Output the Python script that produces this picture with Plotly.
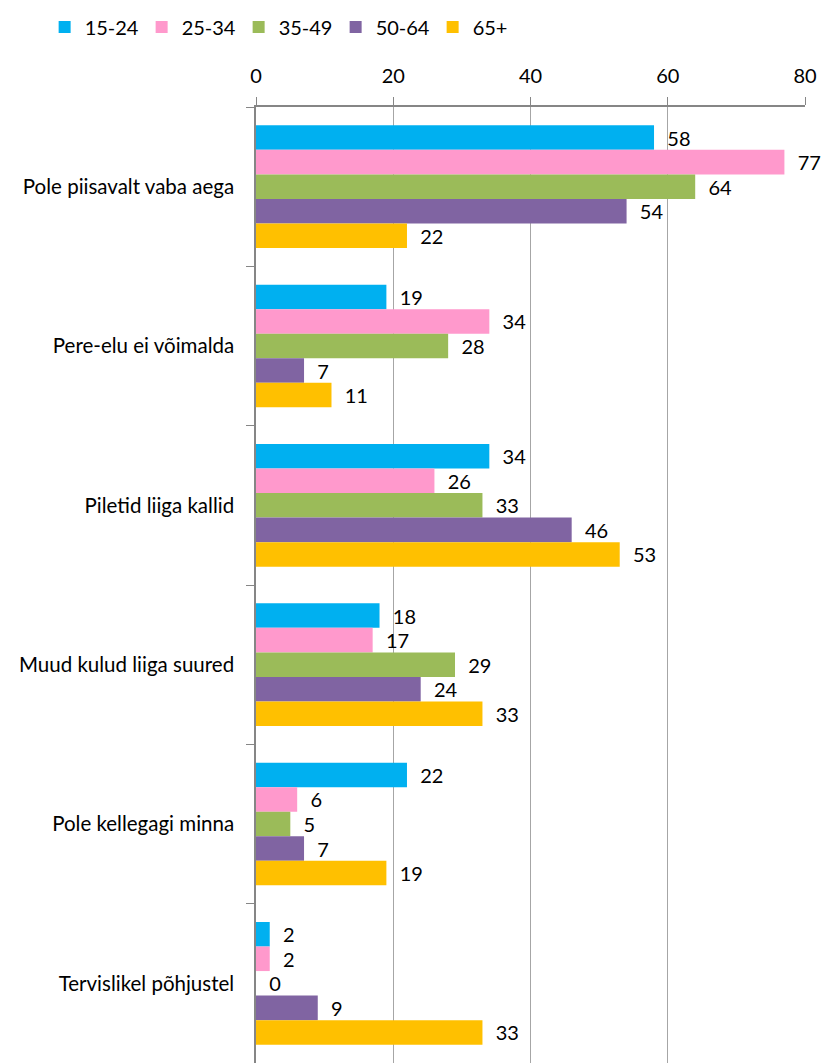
import plotly.graph_objects as go

categories = ["Pole piisavalt vaba aega", "Pere-elu ei võimalda", "Piletid liiga kallid",
              "Muud kulud liiga suured", "Pole kellegagi minna", "Tervislikel põhjustel"]
series_names = ["15-24", "25-34", "35-49", "50-64", "65+"]
v_15_24 = [58, 19, 34, 18, 22, 2]
v_25_34 = [77, 34, 26, 17, 6, 2]
v_35_49 = [64, 28, 33, 29, 5, 0]
v_50_64 = [54, 7, 46, 24, 7, 9]
v_65 = [22, 11, 53, 33, 19, 33]
x_ticks = [0, 20, 40, 60, 80]

colors = ["#00B0F0", "#FF99CC", "#9BBB59", "#8064A2", "#FFC000"]
all_values = [v_15_24, v_25_34, v_35_49, v_50_64, v_65]

FONT = "Lato, Carlito, Calibri, sans-serif"

fig = go.Figure()
for name, vals, col in zip(series_names, all_values, colors):
    fig.add_trace(go.Bar(
        y=categories, x=vals, name=name, orientation="h",
        marker=dict(color=col, line=dict(width=0)),
        text=["\u00a0\u00a0" + str(v) for v in vals], textposition="outside",
        textfont=dict(size=20, color="black", family=FONT),
        cliponaxis=False,
    ))

fig.update_layout(
    width=821, height=1063,
    barmode="group", bargap=0.23, bargroupgap=0,
    plot_bgcolor="white", paper_bgcolor="white",
    margin=dict(l=256, r=16, t=107, b=0),
    font=dict(family=FONT, size=20, color="black"),
    legend=dict(orientation="h", x=-0.385, xanchor="left", y=1.0837, yanchor="middle",
                font=dict(size=20), itemwidth=30, entrywidth=52, entrywidthmode="pixels",
                traceorder="normal"),
    xaxis=dict(side="top", range=[0, 80], tickvals=x_ticks, showgrid=True,
               gridcolor="#A6A6A6", gridwidth=1.2, showline=True, linecolor="#868686",
               linewidth=1.5, ticks="outside", ticklen=8, tickcolor="#868686",
               tickfont=dict(size=20), ticklabelstandoff=6, zeroline=False),
    yaxis=dict(autorange="reversed", showline=True, linecolor="#868686", linewidth=1.5,
               ticks="outside", ticklen=8, tickcolor="#868686", tickson="boundaries",
               tickfont=dict(size=20.5), ticklabelstandoff=16),
)

fig.write_html("out.html", config={"displayModeBar": False},
               post_script="document.body.style.margin='0';document.body.style.overflow='hidden';")
